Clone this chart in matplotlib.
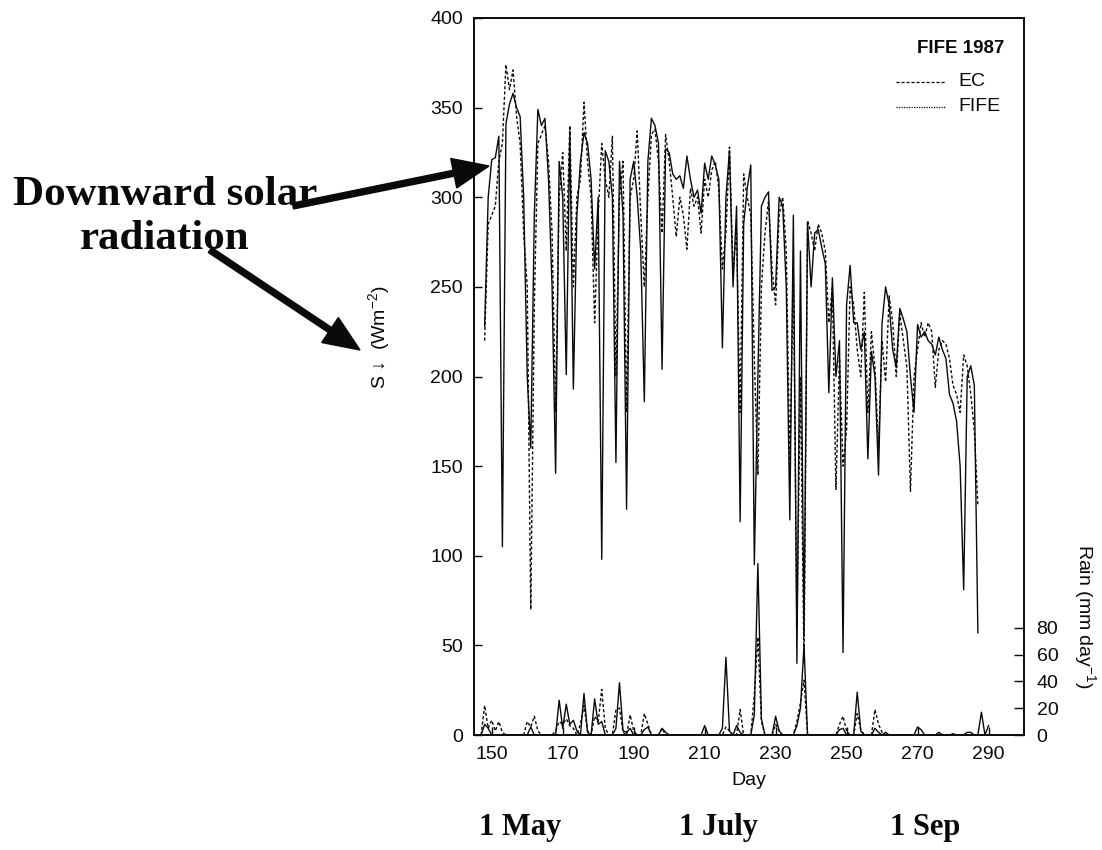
import matplotlib
matplotlib.use('Agg')
import matplotlib.pyplot as plt
from matplotlib.patches import FancyArrow

plt.rcParams['font.family'] = ['Liberation Sans', 'DejaVu Sans']
plt.rcParams['mathtext.fontset'] = 'custom'
plt.rcParams['mathtext.rm'] = 'Liberation Sans'
plt.rcParams['mathtext.it'] = 'Liberation Sans:italic'

# ---------------- data ----------------
s_start_day = 148
fife_s = [228, 300, 321, 322, 334, 105, 341, 352, 358, 350,
          345, 300, 200, 160, 290, 349, 340, 344, 310, 250,
          146, 320, 300, 201, 337, 193, 290, 320, 336, 330,
          310, 260, 300, 98, 326, 320, 300, 152, 320, 290,
          126, 310, 320, 300, 270, 186, 320, 344, 340, 330,
          204, 327, 325, 313, 310, 312, 305, 323, 310, 300,
          304, 291, 319, 310, 323, 318, 310, 216, 300, 326,
          250, 295, 119, 285, 305, 318, 95, 200, 295, 300,
          303, 248, 250, 300, 295, 250, 120, 290, 40, 270,
          55, 286, 250, 280, 282, 272, 263, 191, 255, 200,
          220, 46, 240, 262, 230, 230, 215, 225, 154, 214,
          200, 145, 230, 250, 240, 215, 205, 238, 232, 225,
          200, 180, 229, 222, 225, 220, 218, 212, 222, 215,
          210, 190, 185, 175, 150, 81, 200, 206, 195, 57]
ec_s = [220, 285, 290, 295, 320, 330, 374, 360, 371, 345,
        330, 280, 250, 70, 240, 330, 335, 340, 320, 280,
        180, 300, 325, 270, 340, 250, 300, 310, 353, 320,
        300, 230, 290, 330, 310, 300, 334, 200, 300, 320,
        180, 300, 310, 337, 290, 250, 300, 335, 338, 320,
        280, 335, 320, 300, 278, 300, 290, 271, 305, 295,
        300, 280, 310, 300, 315, 320, 305, 260, 280, 328,
        260, 280, 180, 313, 300, 290, 210, 145, 250, 280,
        298, 260, 240, 290, 300, 270, 150, 260, 60, 200,
        40, 287, 280, 270, 285, 280, 270, 230, 250, 137,
        210, 150, 170, 250, 240, 215, 200, 247, 180, 225,
        205, 160, 220, 197, 245, 230, 200, 235, 220, 205,
        136, 200, 215, 230, 222, 230, 225, 194, 215, 220,
        218, 210, 195, 190, 180, 212, 206, 190, 170, 128]

rain_start_day = 147
fife_rain = [0, 8, 5, 0, 0, 0, 0, 0, 0, 0,
             0, 0, 0, 0, 6, 0, 0, 0, 0, 0,
             0, 0, 26, 5, 23, 8, 11, 3, 0, 31,
             2, 0, 27, 8, 10, 0, 0, 0, 5, 39,
             3, 2, 5, 0, 0, 0, 4, 6, 0, 0,
             0, 5, 2, 0, 0, 0, 0, 0, 0, 0,
             0, 0, 0, 7, 0, 0, 0, 0, 5, 58,
             3, 0, 7, 2, 0, 0, 0, 15, 128, 12,
             0, 0, 0, 14, 3, 0, 0, 0, 0, 7,
             20, 67, 0, 0, 0, 0, 0, 0, 0, 0,
             0, 4, 5, 0, 0, 0, 32, 3, 0, 0,
             0, 5, 2, 0, 2, 0, 0, 0, 0, 0,
             0, 0, 0, 6, 4, 0, 0, 0, 0, 2,
             0, 0, 0, 1, 0, 0, 0, 2, 2, 0,
             0, 17, 0, 7]
ec_rain = [0, 22, 5, 11, 3, 10, 2, 0, 0, 0,
           0, 0, 0, 10, 6, 14, 3, 0, 0, 0,
           0, 3, 10, 8, 12, 7, 5, 0, 8, 22,
           3, 0, 14, 10, 34, 5, 0, 0, 19, 20,
           2, 0, 15, 3, 0, 0, 16, 8, 0, 0,
           0, 5, 0, 0, 0, 0, 0, 0, 0, 0,
           0, 0, 0, 0, 0, 0, 0, 0, 0, 6,
           3, 0, 0, 19, 0, 0, 0, 30, 73, 10,
           0, 0, 0, 8, 3, 0, 0, 0, 0, 10,
           24, 41, 0, 0, 0, 0, 0, 0, 0, 0,
           0, 8, 14, 3, 0, 0, 16, 4, 0, 0,
           0, 19, 8, 2, 0, 0, 0, 0, 0, 0,
           0, 0, 0, 0, 0, 0, 0, 0, 0, 0,
           0, 0, 0, 0, 0, 0, 0, 0, 0, 0,
           0, 0, 0, 0]

s_days = [s_start_day + i for i in range(len(fife_s))]
rain_days = [rain_start_day + i for i in range(len(fife_rain))]

x_ticks = [150, 170, 190, 210, 230, 250, 270, 290]
y_ticks = [0, 50, 100, 150, 200, 250, 300, 350, 400]
rain_ticks = [0, 20, 40, 60, 80]
month_labels = ['1 May', '1 July', '1 Sep']

# ---------------- figure ----------------
W, H = 1102, 850
fig = plt.figure(figsize=(W / 100, H / 100), dpi=100)
ax = fig.add_axes([474 / W, 115 / H, 550 / W, 717 / H])

ink = '#0a0a0a'
dotted = (0, (2.2, 1.6))

ax.plot(s_days, ec_s, color=ink, lw=1.0, ls=dotted, zorder=3)
ax.plot(s_days, fife_s, color=ink, lw=1.0, zorder=4)

ax.set_xlim(145, 300)
ax.set_ylim(0, 400)
ax.set_xticks(x_ticks)
ax.set_yticks(y_ticks)
ax.tick_params(axis='both', direction='in', length=6, width=1.0,
               labelsize=14, pad=8, colors=ink, right=False, top=False)
for sp in ax.spines.values():
    sp.set_linewidth(1.2)
    sp.set_color(ink)

ax2 = ax.twinx()
ax2.plot(rain_days, ec_rain, color=ink, lw=1.0, ls=dotted, zorder=3)
ax2.plot(rain_days, fife_rain, color=ink, lw=1.0, zorder=4)
ax2.set_ylim(0, 535)
ax2.set_yticks(rain_ticks)
ax2.tick_params(axis='y', direction='in', length=7, width=1.0,
                labelsize=14, pad=9, colors=ink)
for sp in ax2.spines.values():
    sp.set_linewidth(1.2)
    sp.set_color(ink)

ax.set_xlabel('Day', fontsize=14, color=ink)
ax.xaxis.set_label_coords(0.5, -0.052)
ax.set_ylabel('S \u2193  (Wm$^{-2}$)', fontsize=14, color=ink)
ax.yaxis.set_label_coords(-0.150, 0.555)
ax2.set_ylabel('Rain (mm day$^{-1}$)', fontsize=14, color=ink, rotation=270)
ax2.yaxis.set_label_coords(1.135, 0.165)

# legend block
ax.text(0.964, 0.958, 'FIFE 1987', transform=ax.transAxes, ha='right',
        va='center', fontsize=13.5, fontweight='bold', color=ink)
ax.plot([0.768, 0.858], [0.911, 0.911], transform=ax.transAxes, color=ink,
        lw=0.9, ls=(0, (2.5, 1.5)))
ax.plot([0.768, 0.858], [0.876, 0.876], transform=ax.transAxes, color=ink,
        lw=0.9, ls=(0, (1, 1)))
ax.text(0.880, 0.911, 'EC', transform=ax.transAxes, ha='left', va='center',
        fontsize=14, color=ink)
ax.text(0.880, 0.876, 'FIFE', transform=ax.transAxes, ha='left', va='center',
        fontsize=14, color=ink)

# annotation text
serif = ['Liberation Serif', 'DejaVu Serif']
fig.text(165 / W, 1 - 205 / H, 'Downward solar', ha='center', va='baseline',
         fontsize=31, fontweight='bold', family=serif, color=ink)
fig.text(165 / W, 1 - 249 / H, 'radiation', ha='center', va='baseline',
         fontsize=31, fontweight='bold', family=serif, color=ink)

for lab, xp in zip(month_labels, [520, 718, 925]):
    fig.text(xp / W, 1 - 828 / H, lab, ha='center', va='center',
             fontsize=22, fontweight='bold', family=serif, color=ink)

# arrows (figure inches)
def arrow(x0, y0, x1, y1):
    a = FancyArrow(x0 / 100, (H - y0) / 100, (x1 - x0) / 100, -(y1 - y0) / 100,
                   width=0.06, head_width=0.30, head_length=0.36,
                   length_includes_head=True, color=ink, ec=ink,
                   transform=fig.dpi_scale_trans)
    fig.add_artist(a)

arrow(293, 206, 489, 166)
arrow(210, 250, 360, 350)

fig.savefig('out.png', dpi=100)
